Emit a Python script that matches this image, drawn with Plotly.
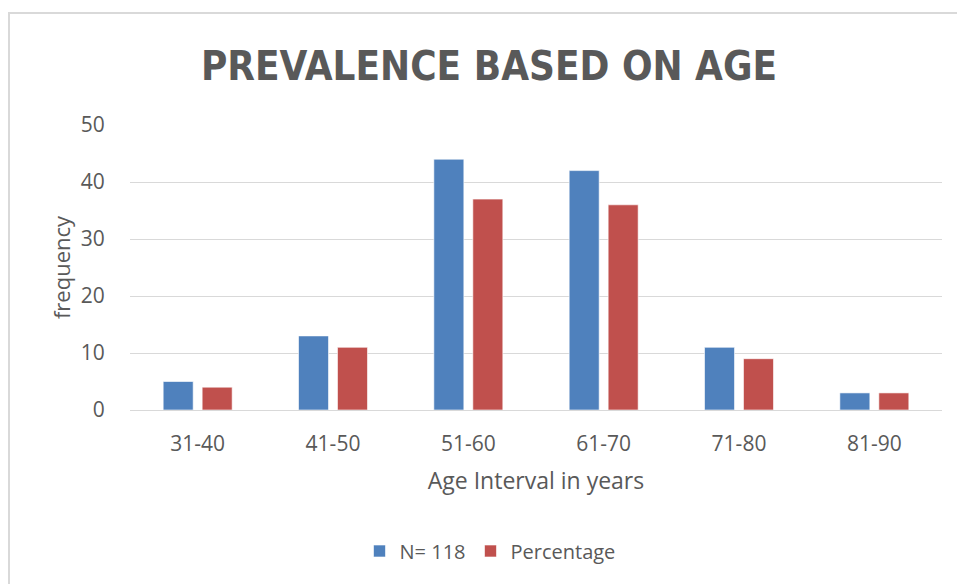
import plotly.graph_objects as go

# Age bands and counts per band
age_bands = ["31-40", "41-50", "51-60", "61-70", "71-80", "81-90"]
n_counts = [5, 13, 44, 42, 11, 3]
percentages = [4, 11, 37, 36, 9, 3]
y_ticks = [0, 10, 20, 30, 40, 50]

BLUE = "#4F81BD"
RED = "#C0504D"
TEXT = "#595959"
GRID = "#D9D9D9"
FONT = "Open Sans, Liberation Sans, sans-serif"
TITLE_FONT = "Liberation Sans Narrow, DejaVu Sans Condensed, Arial Narrow, sans-serif"

W, H = 957, 584
L, R, T, B = 130, 15, 125, 174
pw, ph = W - L - R, H - T - B

fig = go.Figure()
fig.add_trace(go.Bar(
    x=age_bands, y=n_counts, name="N= 118",
    marker=dict(color=BLUE, line=dict(color="rgba(255,255,255,0.6)", width=1)),
))
fig.add_trace(go.Bar(
    x=age_bands, y=percentages, name="Percentage",
    marker=dict(color=RED, line=dict(color="rgba(255,255,255,0.6)", width=1)),
))

# light chart-area border
fig.add_shape(
    type="rect", xref="paper", yref="paper",
    x0=(9 - L) / pw, x1=(W + 10 - L) / pw,
    y0=(H - B - (H + 10)) / ph, y1=(H - B - 13) / ph,
    line=dict(color=GRID, width=2), layer="below",
)

fig.update_layout(
    width=W, height=H,
    margin=dict(l=L, r=R, t=T, b=B, autoexpand=False),
    paper_bgcolor="white", plot_bgcolor="white",
    barmode="group", bargap=0.424, bargroupgap=0.23,
    title=dict(
        text="<b>PREVALENCE BASED ON AGE</b>",
        x=489 / W, xanchor="center", y=1 - 66 / H, yanchor="middle",
        font=dict(family=TITLE_FONT, size=40, color=TEXT),
    ),
    font=dict(family=FONT, color=TEXT),
    xaxis=dict(
        showgrid=False, showline=False, zeroline=False,
        ticks="outside", ticklen=15, tickcolor="rgba(0,0,0,0)",
        tickfont=dict(size=21, color=TEXT),
        title=dict(text="Age Interval in years", font=dict(size=23, color=TEXT), standoff=16),
    ),
    yaxis=dict(
        range=[0, 50], tickvals=y_ticks,
        showgrid=True, gridcolor=GRID, gridwidth=1,
        zeroline=True, zerolinecolor=GRID, zerolinewidth=1,
        showline=False,
        ticks="outside", ticklen=20, tickcolor="rgba(0,0,0,0)",
        tickfont=dict(size=21, color=TEXT),
        title=dict(text="frequency", font=dict(size=22, color=TEXT), standoff=4),
    ),
    legend=dict(
        orientation="h", x=490 / W, xanchor="center",
        xref="container", y=1 - 551 / H, yref="container", yanchor="middle",
        font=dict(size=20, color=TEXT), itemwidth=30,
        traceorder="normal",
    ),
)

fig.write_html("out.html")
